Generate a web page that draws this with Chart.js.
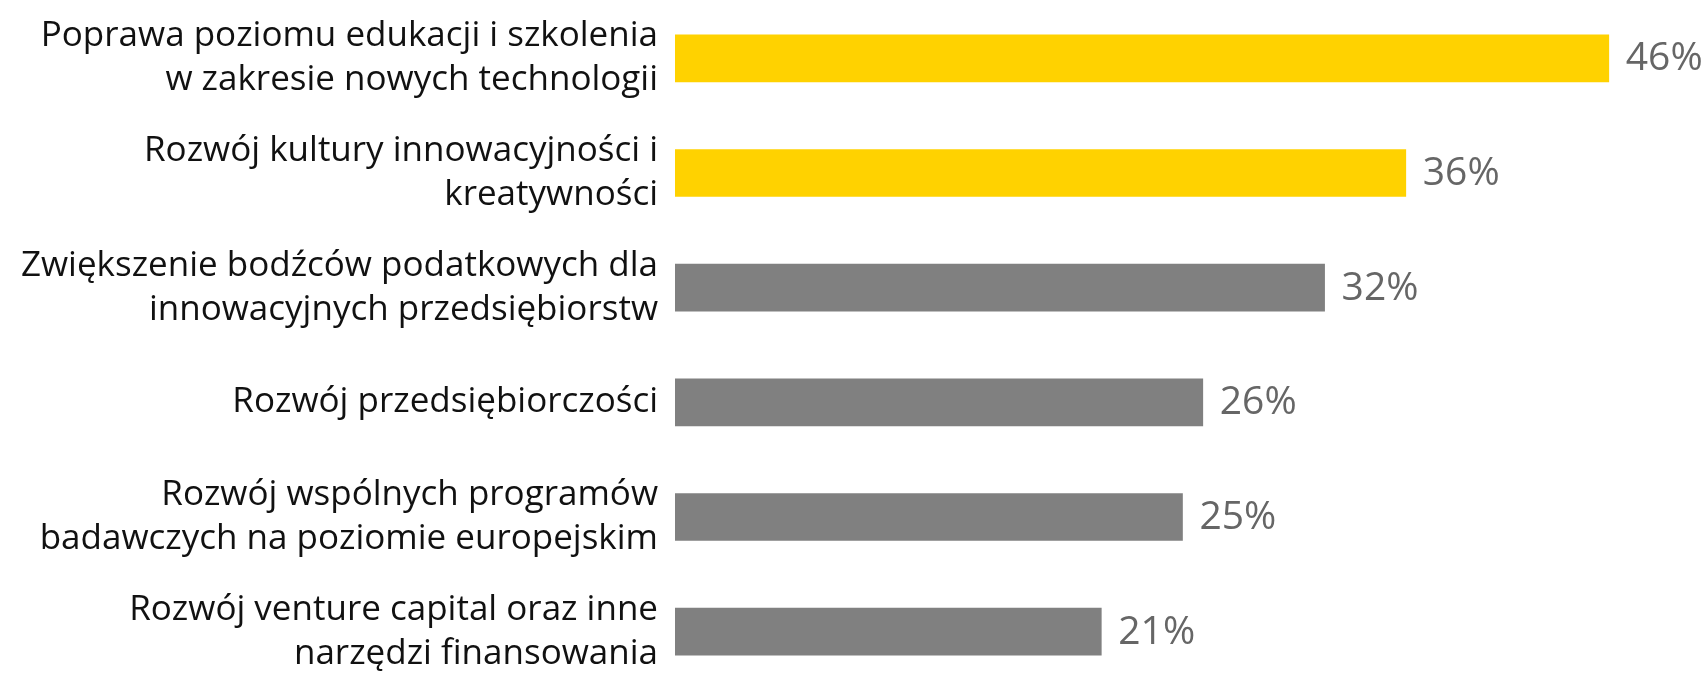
<!DOCTYPE html>
<html>
<head>
<meta charset="utf-8">
<script src="https://cdn.jsdelivr.net/npm/chart.js@4/dist/chart.umd.min.js"></script>
<style>
	html, body { margin: 0; padding: 0; background: #fff; overflow: hidden; }
	#wrap { position: relative; width: 1707px; height: 690px; }
</style>
</head>
<body>
<div id="wrap"><canvas id="myCanvasBarGraph"></canvas></div>
<script>
var categories = [
	['Poprawa poziomu edukacji i szkolenia', 'w zakresie nowych technologii'],
	['Rozwój kultury innowacyjności i', 'kreatywności'],
	['Zwiększenie bodźców podatkowych dla', 'innowacyjnych przedsiębiorstw'],
	'Rozwój przedsiębiorczości',
	['Rozwój wspólnych programów', 'badawczych na poziomie europejskim'],
	['Rozwój venture capital oraz inne', 'narzędzi finansowania']
];
var percent = [46, 36, 32, 26, 25, 21];
var highlighted = 2; // first two bars are yellow

var colors = [];
for (var i in percent) {
	colors.push(i < highlighted ? '#FFD200' : '#808080');
}

var valueLabels = {
	id: 'valueLabels',
	afterDatasetsDraw: function(chart) {
		var ctx = chart.ctx;
		var meta = chart.getDatasetMeta(0);
		ctx.save();
		ctx.font = '39px "Open Sans"';
		ctx.fillStyle = '#666666';
		ctx.textAlign = 'left';
		ctx.textBaseline = 'middle';
		meta.data.forEach(function(bar, i) {
			ctx.fillText(percent[i] + '%', bar.x + 17, bar.y + 1);
		});
		ctx.restore();
	}
};

var chartdata = {
	labels: categories,
	datasets: [
		{
			data: percent,
			backgroundColor: colors,
			borderWidth: 0,
			barThickness: 47
		}
	]
};

var ctx = document.getElementById('myCanvasBarGraph');

var barGraph = new Chart(ctx, {
	type: 'bar',
	data: chartdata,
	plugins: [valueLabels],
	options: {
		indexAxis: 'y',
		responsive: true,
		maintainAspectRatio: false,
		animation: false,
		layout: { padding: { top: 1, bottom: 1, left: 0, right: 17 } },
		plugins: {
			legend: { display: false },
			tooltip: { enabled: false }
		},
		scales: {
			x: {
				display: false,
				min: 0,
				max: 50
			},
			y: {
				afterFit: function(scale) {
					scale.width = 675;
					// labels may run past the plot area, don't shrink it
					scale.paddingTop = 0;
					scale.paddingBottom = 0;
				},
				grid: { display: false, drawTicks: false },
				border: { display: false },
				ticks: {
					padding: 17,
					color: '#111111',
					font: { family: '"Open Sans"', size: 35, lineHeight: 1.25 }
				}
			}
		}
	}
});
</script>
</body>
</html>
